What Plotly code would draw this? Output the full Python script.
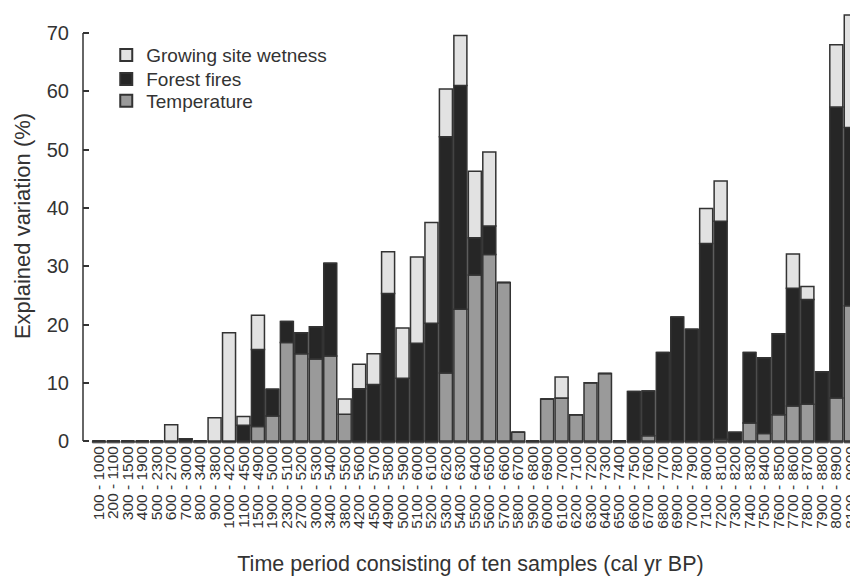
import plotly.graph_objects as go

periods = [
    "100 - 1000", "200 - 1100", "300 - 1500", "400 - 1900", "500 - 2300",
    "600 - 2700", "700 - 3000", "800 - 3400", "900 - 3800", "1000 - 4200",
    "1100 - 4500", "1500 - 4900", "1900 - 5000", "2300 - 5100", "2700 - 5200",
    "3000 - 5300", "3400 - 5400", "3800 - 5500", "4200 - 5600", "4500 - 5700",
    "4900 - 5800", "5000 - 5900", "5100 - 6000", "5200 - 6100", "5300 - 6200",
    "5400 - 6300", "5500 - 6400", "5600 - 6500", "5700 - 6600", "5800 - 6700",
    "5900 - 6800", "6000 - 6900", "6100 - 7000", "6200 - 7100", "6300 - 7200",
    "6400 - 7300", "6500 - 7400", "6600 - 7500", "6700 - 7600", "6800 - 7700",
    "6900 - 7800", "7000 - 7900", "7100 - 8000", "7200 - 8100", "7300 - 8200",
    "7400 - 8300", "7500 - 8400", "7600 - 8500", "7700 - 8600", "7800 - 8700",
    "7900 - 8800", "8000 - 8900", "8100 - 9000",
]

temperature = [
    0, 0, 0, 0, 0, 0, 0, 0, 0, 0,
    0, 2.5, 4.3, 16.9, 15.0, 14.1, 14.6, 4.6, 0, 0,
    0, 0, 0, 0, 11.7, 22.6, 28.5, 32.0, 27.2, 1.5,
    0, 7.2, 7.4, 4.5, 10.0, 11.6, 0, 0, 0.9, 0,
    0, 0, 0, 0.3, 0, 3.1, 1.3, 4.5, 6.0, 6.3,
    0, 7.4, 23.2,
]

forest_fires = [
    0, 0, 0, 0, 0, 0, 0.4, 0, 0, 0,
    2.7, 13.2, 4.6, 3.6, 3.6, 5.5, 15.9, 0, 9.0, 9.7,
    25.3, 10.8, 16.8, 20.2, 40.5, 38.4, 6.4, 4.9, 0, 0,
    0, 0, 0, 0, 0, 0, 0, 8.5, 7.7, 15.2,
    21.3, 19.2, 33.9, 37.4, 1.5, 12.1, 13.0, 13.9, 20.2, 18.0,
    11.9, 49.9, 30.6,
]

wetness = [
    0, 0, 0, 0, 0, 2.8, 0, 0, 4.0, 18.6,
    1.5, 5.9, 0, 0, 0, 0, 0, 2.6, 4.2, 5.3,
    7.2, 8.6, 14.8, 17.3, 8.2, 8.6, 11.4, 12.7, 0, 0,
    0, 0, 3.6, 0, 0, 0, 0, 0, 0, 0,
    0, 0, 6.0, 6.9, 0, 0, 0, 0, 5.9, 2.2,
    0, 10.7, 19.3,
]

y_ticks = [0, 10, 20, 30, 40, 50, 60, 70]

base_forest = [t for t in temperature]
base_wet = [t + f for t, f in zip(temperature, forest_fires)]

edge = dict(color="#333333", width=1.5)
font_family = "Liberation Sans, Arial, sans-serif"

fig = go.Figure()
# thin baseline strip under every bar (the reference draws empty periods as flat outlines)
fig.add_trace(go.Bar(
    x=periods, y=[0.3] * len(periods), base=[-0.3] * len(periods),
    marker=dict(color="#555555", line=dict(color="#444444", width=1)),
    showlegend=False, hoverinfo="skip",
))
fig.add_trace(go.Bar(
    x=periods, y=temperature, name="Temperature", legend="legend3",
    marker=dict(color="#9a9a9a", line=edge),
))
fig.add_trace(go.Bar(
    x=periods, y=forest_fires, base=base_forest, name="Forest fires", legend="legend2",
    marker=dict(color="#262626", line=edge),
))
fig.add_trace(go.Bar(
    x=periods, y=wetness, base=base_wet, name="Growing site wetness", legend="legend",
    marker=dict(color="#e2e2e2", line=edge),
))


def legend_box(ypos):
    return dict(
        x=0.030, y=ypos, xanchor="left", yanchor="middle",
        font=dict(size=19, color="#333333"),
        bgcolor="rgba(0,0,0,0)", itemsizing="constant",
    )


# the page body adds an 8px offset, so the figure is 850x572
fig.update_layout(
    width=850, height=572,
    margin=dict(l=75, r=0, t=0, b=136),
    barmode="overlay", bargap=0.1,
    plot_bgcolor="white", paper_bgcolor="white",
    font=dict(family=font_family, color="#333333"),
    legend=legend_box(0.892),
    legend2=legend_box(0.837),
    legend3=legend_box(0.787),
    xaxis=dict(
        range=[-1.1, 52.5], tickangle=-90, tickfont=dict(size=15.5, color="#333333"),
        tickmode="array", tickvals=periods, ticktext=periods,
        showgrid=False, showline=False, ticks="", zeroline=False, automargin=False,
        ticklabelstandoff=-2,
        title=dict(text="Time period consisting of ten samples (cal yr BP)",
                   font=dict(size=21.5, color="#333333"), standoff=28),
    ),
    yaxis=dict(
        range=[-0.5, 74.3], tickvals=y_ticks, ticks="inside", ticklen=6,
        tickwidth=1.5, tickcolor="#333333", showgrid=False, showline=False,
        zeroline=False, tickfont=dict(size=20, color="#333333"), automargin=False,
        ticklabelstandoff=13,
        title=dict(text="Explained variation (%)", font=dict(size=22, color="#333333"),
                   standoff=10),
    ),
    shapes=[dict(type="line", xref="paper", yref="y", x0=0, x1=0, y0=0, y1=70,
                 line=dict(color="#333333", width=1.5))],
)

fig.write_html("out.html")
